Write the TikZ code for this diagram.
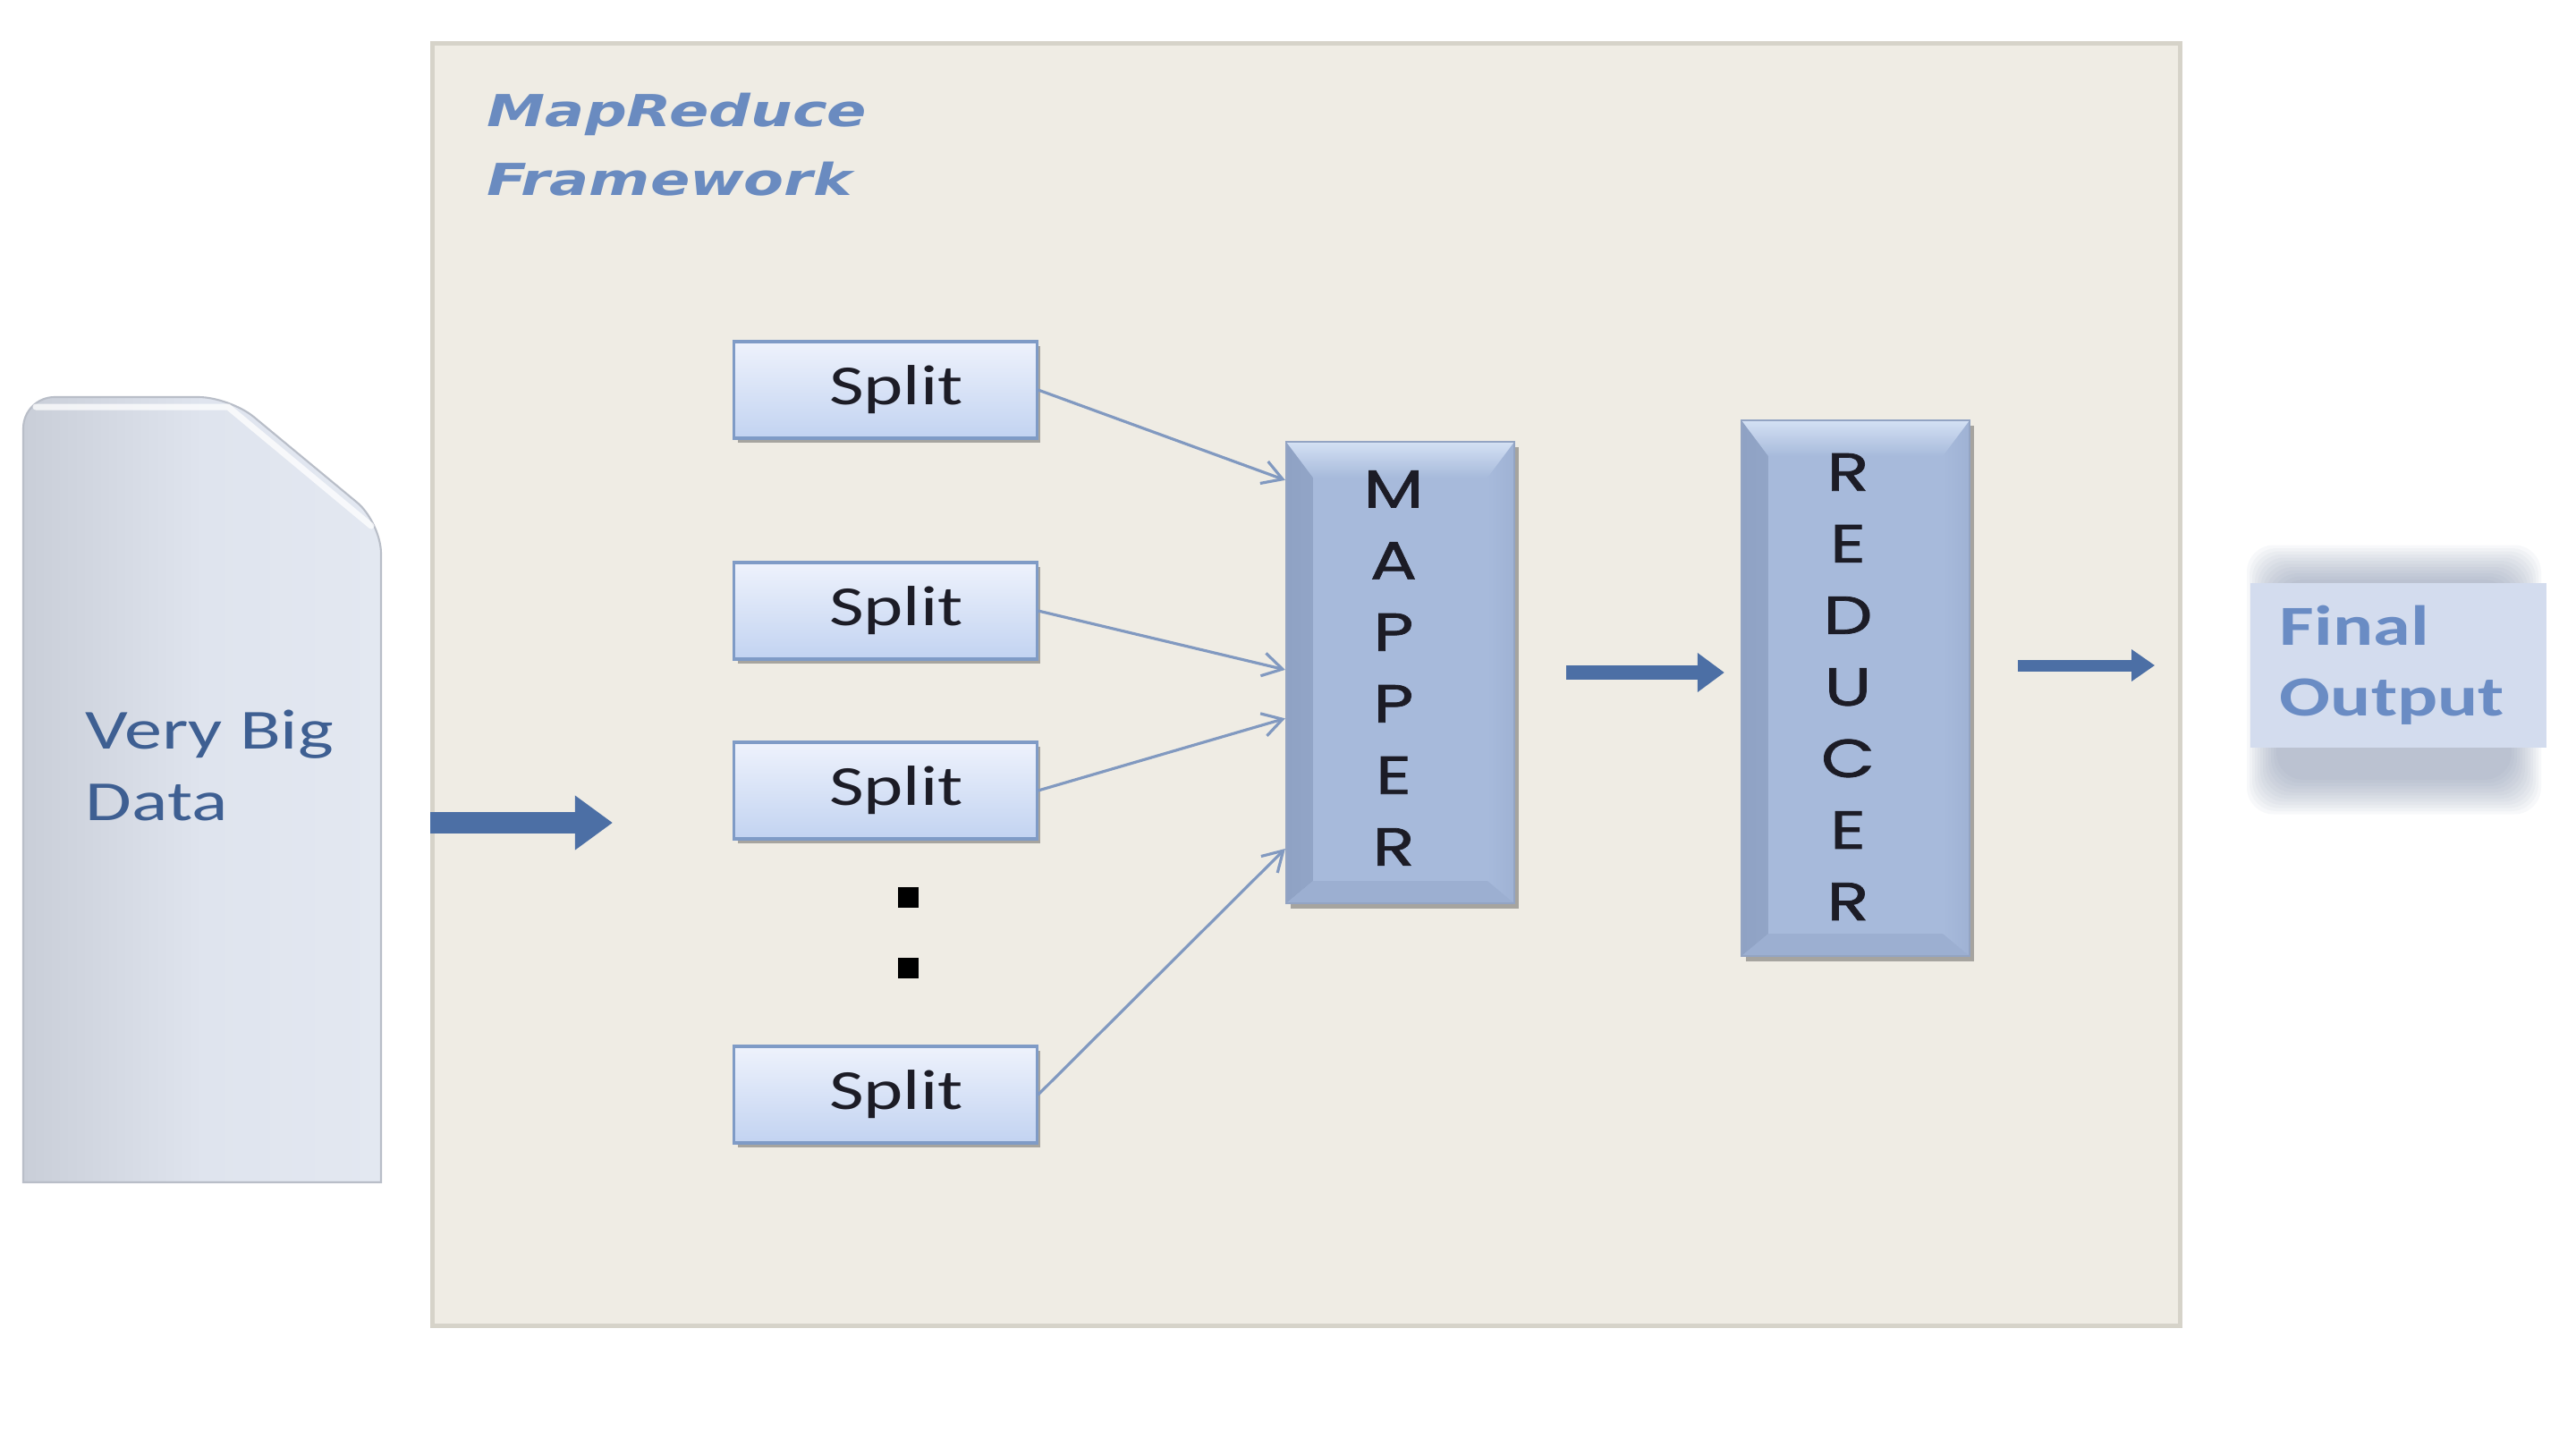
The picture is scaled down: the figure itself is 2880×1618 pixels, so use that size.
\documentclass[tikz,border=0pt]{standalone}
\usepackage{fontspec}
\usetikzlibrary{arrows.meta,calc,shadows}
\newfontfamily\calib[FakeStretch=1.33]{Carlito}
\newfontfamily\verd[FakeStretch=1.33]{DejaVu Sans}
\newfontfamily\gothic[FakeStretch=1.3,FakeBold=1.2]{Poppins}
\definecolor{framebg}{HTML}{EFECE4}
\definecolor{frameline}{HTML}{D6D3C9}
\definecolor{docleft}{HTML}{C9CED8}
\definecolor{docmid}{HTML}{DFE4EE}
\definecolor{docright}{HTML}{E3E8F1}
\definecolor{docline}{HTML}{B9BEC8}
\definecolor{doctext}{HTML}{3E5F92}
\definecolor{titleblue}{HTML}{6A8BC0}
\definecolor{arrowblue}{HTML}{4C6FA5}
\definecolor{thinblue}{HTML}{8199C0}
\definecolor{splittop}{HTML}{EEF2FC}
\definecolor{splitbot}{HTML}{C2D3F1}
\definecolor{splitline}{HTML}{7F9BC6}
\definecolor{darktext}{HTML}{1C1C26}
\definecolor{mapfill}{HTML}{A7BADB}
\definecolor{bevlight}{HTML}{D4E1F4}
\definecolor{bevdark}{HTML}{8FA2C4}
\definecolor{bevbottom}{HTML}{9CAFD1}
\definecolor{bevright}{HTML}{9FB2D4}
\definecolor{mapline}{HTML}{93A4C3}
\definecolor{outfill}{HTML}{D3DCEE}
\definecolor{outtext}{HTML}{6A8CC4}
\definecolor{blurc}{HTML}{7F8EAB}
\begin{document}
\begin{tikzpicture}[x=0.01cm,y=-0.01cm,
  framebox/.style={draw=frameline, line width=0.05cm, fill=framebg, inner sep=0pt},
  splitbox/.style={draw=splitline, line width=0.9pt, top color=splittop, bottom color=splitbot,
    minimum width=3.38cm, minimum height=1.08cm, inner sep=0pt, text=darktext,
    font=\calib\fontsize{18}{22}\selectfont,
    drop shadow={shadow xshift=0.04cm, shadow yshift=-0.05cm, opacity=0.3, fill=black}},
  bevelbox/.style={draw=mapline, line width=0.6pt, fill=mapfill, inner sep=0pt,
    drop shadow={shadow xshift=0.05cm, shadow yshift=-0.06cm, opacity=0.3, fill=black},
    path picture={
      \path[left color=bevdark, right color=mapfill]
        (path picture bounding box.north west) -- ([xshift=0.3cm,yshift=-0.4cm]path picture bounding box.north west)
        -- ([xshift=0.3cm,yshift=0.25cm]path picture bounding box.south west) -- (path picture bounding box.south west) -- cycle;
      \path[right color=bevright, left color=mapfill]
        (path picture bounding box.north east) -- ([xshift=-0.3cm,yshift=-0.4cm]path picture bounding box.north east)
        -- ([xshift=-0.3cm,yshift=0.25cm]path picture bounding box.south east) -- (path picture bounding box.south east) -- cycle;
      \path[top color=bevlight, bottom color=mapfill]
        (path picture bounding box.north west) -- (path picture bounding box.north east)
        -- ([xshift=-0.3cm,yshift=-0.4cm]path picture bounding box.north east) -- ([xshift=0.3cm,yshift=-0.4cm]path picture bounding box.north west) -- cycle;
      \fill[bevbottom]
        (path picture bounding box.south west) -- (path picture bounding box.south east)
        -- ([xshift=-0.3cm,yshift=0.25cm]path picture bounding box.south east) -- ([xshift=0.3cm,yshift=0.25cm]path picture bounding box.south west) -- cycle;
    }},
  stacklabel/.style={align=center, inner sep=0pt, text=darktext, font=\gothic\fontsize{17}{22.76}\selectfont},
  bigarrow/.style={draw=arrowblue, line width=0.24cm, -{Triangle[length=0.42cm,width=0.58cm]}},
  midarrow/.style={draw=arrowblue, line width=0.16cm, -{Triangle[length=0.3cm,width=0.42cm]}},
  outarrow/.style={draw=arrowblue, line width=0.13cm, -{Triangle[length=0.26cm,width=0.34cm]}},
  feed/.style={draw=thinblue, line width=0.9pt, -{Straight Barb[length=0.22cm,width=0.26cm]}},
  dotmark/.style={fill=black, minimum size=0.23cm, inner sep=0pt},
]
\useasboundingbox (0,0) rectangle (2880,1618);
\fill[white] (0,0) rectangle (2880,1618);

% framework
\node[framebox, minimum width=19.53cm, minimum height=14.33cm, anchor=north west] (frame) at (481,46) {};
\node[anchor=west, align=left, inner sep=0pt, text=titleblue,
      font=\verd\bfseries\itshape\fontsize{14}{21.9}\selectfont] (title) at (544,162) {MapReduce\\Framework};

% very big data document
\path[left color=docleft, right color=docright, middle color=docmid, draw=docline, line width=0.6pt]
  (26,1322) [rounded corners=0.35cm] -- (26,444) -- (257,444) -- (426,584) [sharp corners] -- (426,1322) -- cycle;
\draw[white, opacity=0.75, line width=0.07cm, line cap=round] (40,455) -- (255,455) -- (415,588);
\node[anchor=west, align=left, inner sep=0pt, text=doctext,
      font=\calib\fontsize{18}{22.5}\selectfont] (doctext) at (95,856) {Very Big\\Data};

% splits
\node[splitbox] (s1) at (990,436) {\hspace{0.24cm}Split};
\node[splitbox] (s2) at (990,683) {\hspace{0.24cm}Split};
\node[splitbox] (s3) at (990,884) {\hspace{0.24cm}Split};
\node[splitbox] (s4) at (990,1224) {\hspace{0.24cm}Split};
\node[dotmark] (d1) at (1015,1003) {};
\node[dotmark] (d2) at (1015,1082) {};

% mapper and reducer
\node[bevelbox, minimum width=2.55cm, minimum height=5.16cm] (mapper) at (1565.5,752) {};
\node[stacklabel] (maplabel) at (1558,747) {M\\A\\P\\P\\E\\R};
\node[bevelbox, minimum width=2.55cm, minimum height=5.99cm] (reducer) at (2074.5,769.5) {};
\node[stacklabel] (redlabel) at (2066,768) {R\\E\\D\\U\\C\\E\\R};

% final output
\foreach \i in {0,...,11}
  \fill[blurc, opacity=0.055, rounded corners=0.3cm] (2545-3*\i,648-3.5*\i) rectangle (2808+3*\i,872+3.5*\i);
\node[fill=outfill, minimum width=3.31cm, minimum height=1.84cm, inner xsep=0.33cm, inner ysep=0pt,
      text width=2.65cm, align=left, text=outtext,
      font=\calib\bfseries\fontsize{18}{22.5}\selectfont] (output) at (2681.5,744) {Final\\Output};

% connectors
\coordinate (inStart) at (481,920);
\coordinate (inEnd) at (685,920);
\draw[bigarrow] (inStart) -- (inEnd);
\draw[feed] (s1.east) -- ($(mapper.north west)!0.085!(mapper.south west)$);
\draw[feed] (s2.east) -- ($(mapper.north west)!0.494!(mapper.south west)$);
\draw[feed] (s3.east) -- ($(mapper.north west)!0.599!(mapper.south west)$);
\draw[feed] (s4.east) -- ($(mapper.north west)!0.88!(mapper.south west)$);
\draw[midarrow, shorten <=0.57cm, shorten >=0.18cm] (mapper.east) -- (mapper.east -| reducer.west);
\draw[outarrow, shorten <=0.53cm, shorten >=1.06cm] (reducer.east |- output.west) -- (output.west);
\end{tikzpicture}
\end{document}
